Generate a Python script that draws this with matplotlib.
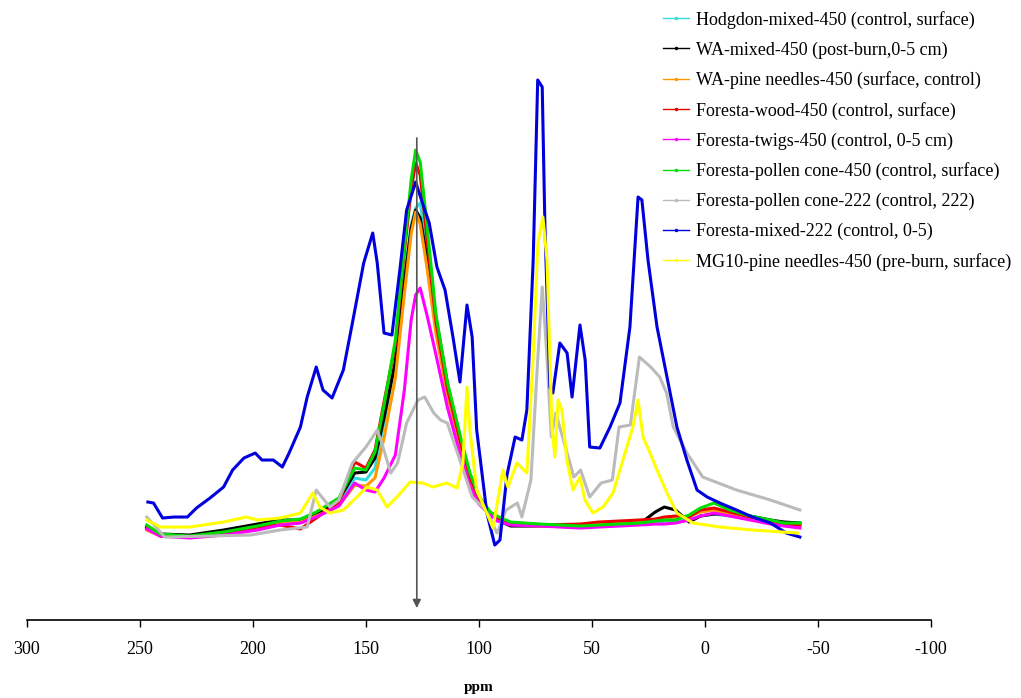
import matplotlib
matplotlib.use("Agg")
import matplotlib.pyplot as plt
from matplotlib.lines import Line2D

# 13C NMR spectra, chemical shift in ppm vs intensity (arbitrary units)

# shared shift axis for the six 450 samples
ppm_450 = [247, 241, 228, 213, 198, 188, 179, 172, 162, 155, 150, 146, 142, 137,
           133, 130, 128, 126, 123, 119, 114, 108, 104, 100, 95, 92, 86, 73, 55,
           47, 38, 29, 22, 18, 13, 7, 2, -4, -11, -20, -29, -35, -42]

hodgdon_mixed_450 = [93, 86, 84, 87, 93, 98, 100, 106, 118, 142, 140, 152, 198, 258,
                     342, 395, 412, 417, 372, 300, 232, 176, 142, 120, 106, 102, 97,
                     95, 94, 96, 96, 97, 99, 98, 99, 100, 104, 106, 104, 101, 98, 97, 97]
wa_mixed_450 = [93, 86, 85, 90, 96, 100, 100, 106, 120, 147, 148, 162, 202, 258,
                338, 392, 410, 402, 362, 302, 237, 177, 143, 121, 106, 100, 94,
                94, 93, 94, 95, 96, 108, 113, 110, 98, 104, 106, 106, 104, 100, 98, 97]
wa_pine_450 = [90, 84, 83, 86, 92, 97, 98, 104, 114, 135, 134, 142, 182, 242,
               326, 386, 408, 396, 352, 286, 225, 171, 139, 118, 105, 100, 96,
               94, 94, 96, 97, 98, 99, 100, 101, 104, 108, 110, 106, 101, 97, 95, 93]
foresta_wood_450 = [92, 84, 83, 87, 93, 95, 91, 102, 118, 158, 152, 170, 218, 275,
                    368, 430, 457, 445, 382, 298, 232, 176, 143, 121, 107, 102, 97,
                    95, 96, 98, 99, 100, 101, 103, 104, 103, 110, 112, 108, 103, 99, 96, 95]
foresta_twigs_450 = [91, 84, 82, 85, 90, 95, 97, 103, 114, 137, 130, 128, 142, 165,
                     230, 300, 325, 332, 305, 265, 213, 163, 134, 116, 105, 99, 95,
                     94, 92, 93, 94, 95, 96, 96, 97, 100, 104, 107, 104, 100, 96, 94, 92]
foresta_pollen_450 = [95, 86, 84, 88, 94, 99, 101, 108, 122, 152, 150, 168, 215, 280,
                      372, 440, 470, 458, 395, 305, 238, 182, 147, 124, 108, 104, 98,
                      96, 94, 95, 96, 97, 99, 100, 100, 105, 112, 117, 110, 104, 100, 97, 97]

# Foresta-pollen cone-222
ppm_pollen_222 = [247, 239, 201, 188, 176, 172, 166, 162, 156, 150, 145, 143, 139,
                  136, 132, 127, 124, 120, 117, 114, 108, 103, 97, 92, 88, 83, 81,
                  77, 74, 72, 70, 68, 66, 63, 58, 55, 51, 46, 41, 38, 33, 29, 24,
                  20, 17, 14, 8, 1, -14, -29, -42]
pollen_222 = [103, 83, 85, 90, 93, 130, 113, 120, 157, 173, 190, 177, 147, 157, 197,
              220, 223, 207, 200, 197, 157, 123, 110, 87, 110, 117, 103, 140, 260,
              333, 267, 183, 207, 183, 143, 150, 123, 137, 140, 193, 195, 263, 253,
              243, 227, 193, 167, 143, 130, 120, 110]

# Foresta-mixed-222
ppm_mixed_222 = [246.5, 244, 240, 235, 229, 225, 219, 213, 209, 204, 199, 196, 191,
                 187, 184, 179, 176, 172, 169, 165, 160, 156, 151, 147, 145, 142,
                 138.5, 135, 132, 128, 125, 122, 118.6, 115, 111.5, 108.4, 105.3,
                 103, 101, 96.5, 93, 90.7, 87.6, 84, 81, 78.8, 76, 74, 72, 70.8,
                 68.6, 67.3, 64.2, 61, 58.8, 55.3, 53, 51, 46.5, 42, 37.6, 33.2,
                 29.6, 27.9, 25.2, 21.2, 16.8, 12.4, 8, 3.5, -1, -6.6, -14, -21,
                 -29, -36, -42]
mixed_222 = [118, 117, 102, 103, 103, 112, 122, 133, 150, 162, 167, 160, 160, 153,
             167, 193, 223, 253, 230, 222, 250, 297, 357, 387, 357, 287, 285, 350,
             410, 438, 417, 397, 353, 330, 283, 238, 315, 283, 190, 107, 75, 80,
             145, 183, 180, 210, 360, 540, 533, 393, 233, 227, 277, 267, 223, 295,
             260, 173, 172, 193, 217, 293, 423, 420, 360, 293, 243, 193, 160, 130,
             123, 117, 110, 103, 97, 87, 83]

# MG10-pine needles-450
ppm_mg10 = [247, 241, 228, 213, 203, 198, 188, 179, 173.5, 170.4, 166, 160, 154,
            149.6, 145, 140.7, 136.3, 130.5, 124.8, 120.4, 114.2, 109.7, 107.1,
            105.3, 104, 101, 96.5, 93.8, 89.4, 87.2, 83.2, 78.8, 76.1, 73.9, 71.7,
            69.9, 67.7, 66.4, 65, 63.3, 61.1, 58.4, 55.3, 53.1, 49.6, 45.1, 40.7,
            36.3, 31.9, 29.6, 27.4, 24.3, 21.2, 16.8, 12.4, 5.3, -6.6, -21, -41]
mg10_pine = [100, 93, 93, 98, 103, 100, 102, 107, 127, 113, 107, 110, 123, 133, 130,
             113, 123, 138, 137, 133, 137, 132, 157, 233, 190, 130, 107, 92, 150,
             133, 157, 147, 260, 377, 403, 360, 193, 163, 220, 210, 160, 130, 143,
             120, 107, 113, 127, 160, 193, 220, 183, 167, 150, 127, 107, 97, 93, 90, 87]

labels = ["Hodgdon-mixed-450 (control, surface)",
          "WA-mixed-450 (post-burn,0-5 cm)",
          "WA-pine needles-450 (surface, control)",
          "Foresta-wood-450 (control, surface)",
          "Foresta-twigs-450 (control, 0-5 cm)",
          "Foresta-pollen cone-450 (control, surface)",
          "Foresta-pollen cone-222 (control, 222)",
          "Foresta-mixed-222 (control, 0-5)",
          "MG10-pine needles-450 (pre-burn, surface)"]
colors = ["#33DDDD", "#000000", "#FF9900", "#EE0000", "#FF00FF",
          "#00DD00", "#BBBBBB", "#0000DD", "#FFFF00"]

series = [(ppm_450, hodgdon_mixed_450), (ppm_450, wa_mixed_450),
          (ppm_450, wa_pine_450), (ppm_450, foresta_wood_450),
          (ppm_450, foresta_twigs_450), (ppm_450, foresta_pollen_450),
          (ppm_pollen_222, pollen_222), (ppm_mixed_222, mixed_222),
          (ppm_mg10, mg10_pine)]

arrow_ppm = 127.5

plt.rcParams["font.family"] = "Liberation Serif"
plt.rcParams["axes.unicode_minus"] = False

fig = plt.figure(figsize=(10.21, 6.98), dpi=100)
ax = fig.add_axes([0.0264, 0.1117, 0.8854, 0.831])

for i, ((x, y), c) in enumerate(zip(series, colors)):
    ax.plot(x, y, color=c, lw=2.2, solid_joinstyle="round", zorder=2 + i)

# marker arrow down to the axis
ax.annotate("", xy=(arrow_ppm, 12), xytext=(arrow_ppm, 482),
            arrowprops=dict(arrowstyle="-|>", color="#555555", lw=1.2,
                            mutation_scale=12, shrinkA=0, shrinkB=0),
            zorder=20)

ax.set_xlim(300, -100)
ax.set_ylim(0, 580)
ax.set_xticks(range(300, -101, -50))
ax.set_yticks([])
for s in ["left", "right", "top"]:
    ax.spines[s].set_visible(False)
ax.spines["bottom"].set_linewidth(1.2)
ax.tick_params(axis="x", direction="out", length=5, width=1, labelsize=13, pad=10)
ax.set_xlabel("ppm", fontsize=11, fontweight="bold", labelpad=17)

handles = [Line2D([], [], color=c, lw=1, marker=".", markersize=3) for c in colors]
fig.legend(handles, labels, loc="upper left", bbox_to_anchor=(0.639, 1.0),
           frameon=False, fontsize=13, handlelength=1.4, handletextpad=0.4,
           labelspacing=0.7, borderaxespad=0.2)

fig.savefig("out.png", dpi=100)
